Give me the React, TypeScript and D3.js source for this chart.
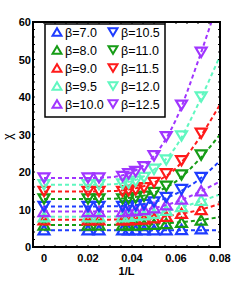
import * as d3 from 'd3'

const W = 249
const H = 291

// 1/L of each simulated size (L = 50, 40, 28, 26, 24, 22, 20, 18, 16, 14), plus the 1/L -> 0 value
const invL = [0, 1 / 50, 1 / 40, 1 / 28, 1 / 26, 1 / 24, 1 / 22, 1 / 20, 1 / 18, 1 / 16, 1 / 14]

const betas = ['7.0', '8.0', '9.0', '9.5', '10.0', '10.5', '11.0', '11.5', '12.0', '12.5']
const colors = ['#1e3cff', '#169c16', '#ff1a1a', '#60f7c0', '#a035ff', '#1e3cff', '#169c16', '#ff1a1a', '#60f7c0', '#a035ff']
const shapes = ['up', 'up', 'up', 'up', 'up', 'down', 'down', 'down', 'down', 'down']

// chi at each 1/L, one row per beta
const chi = [
  [4.6, 4.6, 4.6, 4.6, 4.6, 4.6, 4.6, 4.6, 4.6, 4.7, 4.9],
  [5.9, 5.9, 5.9, 5.9, 5.9, 5.9, 6.0, 6.1, 6.3, 6.6, 7.2],
  [7.3, 7.3, 7.3, 7.3, 7.3, 7.4, 7.5, 7.8, 8.2, 9.0, 10.0],
  [8.1, 8.1, 8.1, 8.1, 8.2, 8.4, 8.6, 9.0, 9.8, 10.8, 12.5],
  [9.5, 9.5, 9.5, 9.5, 9.6, 9.8, 10.0, 10.5, 11.3, 12.8, 15.0],
  [10.8, 10.8, 10.8, 10.8, 10.9, 11.0, 11.3, 12.0, 13.2, 15.3, 18.5],
  [12.8, 12.8, 12.8, 12.8, 12.9, 13.1, 13.5, 14.5, 16.2, 19.2, 24.5],
  [14.8, 14.8, 14.8, 14.8, 15.0, 15.2, 15.8, 17.2, 19.5, 23.0, 30.3],
  [16.6, 16.6, 16.6, 16.8, 17.0, 17.5, 18.5, 20.7, 23.2, 29.6, 40.0],
  [18.4, 18.4, 18.4, 18.8, 19.5, 20.1, 21.4, 24.3, 29.4, 37.8, 51.9],
]

const fitX = [0, 0.02, 0.03, 0.04, 0.05, 0.06, 0.07, 0.08]
const fits = [
  [4.5, 4.5, 4.5, 4.5, 4.5, 4.5, 4.5, 4.5],
  [5.9, 5.9, 5.9, 5.95, 6.1, 6.5, 7.1, 8.0],
  [7.3, 7.3, 7.3, 7.4, 7.8, 8.6, 9.8, 11.5],
  [8.1, 8.1, 8.1, 8.3, 8.9, 10.2, 12.0, 14.0],
  [9.5, 9.5, 9.5, 9.7, 10.4, 12.0, 14.5, 17.5],
  [10.8, 10.8, 10.85, 11.1, 12.0, 14.2, 17.8, 23.0],
  [12.8, 12.8, 12.85, 13.2, 14.5, 17.5, 23.0, 30.0],
  [14.8, 14.8, 14.9, 15.5, 17.2, 21.0, 28.5, 38.0],
  [16.6, 16.6, 16.7, 17.6, 20.6, 26.8, 38.0, 51.0],
  [18.4, 18.4, 18.6, 20.0, 24.3, 34.0, 49.5, 67.0],
]

const xTicks = [0, 0.02, 0.04, 0.06, 0.08]
const yTicks = [0, 10, 20, 30, 40, 50, 60]

const m = { left: 33, right: 29, top: 22, bottom: 44 }

function tri(shape: string, cx: number, cy: number, s: number) {
  const h = s * 0.85
  if (shape === 'up') return `M${cx - s / 2},${cy + h / 2}L${cx + s / 2},${cy + h / 2}L${cx},${cy - h / 2}Z`
  return `M${cx - s / 2},${cy - h / 2}L${cx + s / 2},${cy - h / 2}L${cx},${cy + h / 2}Z`
}

export default function App() {
  const x = d3.scaleLinear().domain([-0.005, 0.08]).range([m.left, W - m.right])
  const y = d3.scaleLinear().domain([0, 60]).range([H - m.bottom, m.top])
  const line = d3.line<number>()
    .x((_, i) => x(fitX[i]))
    .y((d) => y(d))
    .curve(d3.curveMonotoneX)

  const font = 'Liberation Sans, Arial, sans-serif'
  const x0 = m.left
  const x1 = W - m.right
  const y0 = H - m.bottom
  const y1 = m.top
  const xMinor = d3.range(0, 0.0801, 0.005)
  const yMinor = d3.range(0, 60.1, 2)

  return (
    <svg width={W} height={H} style={{ position: 'absolute', left: 0, top: 0 }}>
      <rect width={W} height={H} fill="#fff" />
      <defs>
        <clipPath id="plot">
          <rect x={x0} y={y1} width={x1 - x0} height={y0 - y1} />
        </clipPath>
      </defs>
      <g clipPath="url(#plot)">
        {betas.map((b, k) => (
          <g key={b}>
            <path d={line(fits[k]) ?? ''} fill="none" stroke={colors[k]} strokeWidth={2} strokeDasharray="4,3" />
            {chi[k].map((v, i) => (
              <path key={i} d={tri(shapes[k], x(invL[i]), y(v), 11)} fill="none" stroke={colors[k]} strokeWidth={2.2} />
            ))}
          </g>
        ))}
      </g>
      {xMinor.map((t) => (
        <g key={'xm' + t}>
          <line x1={x(t)} x2={x(t)} y1={y0} y2={y0 - 2} stroke="#000" strokeWidth={1} />
          <line x1={x(t)} x2={x(t)} y1={y1} y2={y1 + 2} stroke="#000" strokeWidth={1} />
        </g>
      ))}
      {yMinor.map((t) => (
        <g key={'ym' + t}>
          <line x1={x0} x2={x0 + 2} y1={y(t)} y2={y(t)} stroke="#000" strokeWidth={1} />
          <line x1={x1} x2={x1 - 2} y1={y(t)} y2={y(t)} stroke="#000" strokeWidth={1} />
        </g>
      ))}
      <rect x={x0} y={y1} width={x1 - x0} height={y0 - y1} fill="none" stroke="#000" strokeWidth={2} />
      {xTicks.map((t) => (
        <text key={'xt' + t} x={x(t)} y={y0 + 15} textAnchor="middle" fontFamily={font} fontWeight="bold" fontSize={11}>
          {String(t)}
        </text>
      ))}
      {yTicks.map((t) => (
        <text key={'yt' + t} x={x0 - 2} y={y(t) + 4} textAnchor="end" fontFamily={font} fontWeight="bold" fontSize={11}>
          {String(t)}
        </text>
      ))}
      <text x={(x0 + x1) / 2} y={y0 + 28} textAnchor="middle" fontFamily={font} fontWeight="bold" fontSize={11}>
        1/L
      </text>
      <text transform={`translate(12,${(y0 + y1) / 2 + 2}) rotate(-90)`} textAnchor="middle" fontFamily={font} fontSize={12}>
        χ
      </text>
      <g>
        <rect x={45} y={24} width={120} height={93} fill="#fff" stroke="#000" strokeWidth={1.5} />
        {betas.map((b, k) => {
          const col = k < 5 ? 0 : 1
          const row = k % 5
          const mx = col === 0 ? 57 : 113
          const my = 32 + row * 18
          return (
            <g key={'lg' + b}>
              <path d={tri(shapes[k], mx, my, 9)} fill="none" stroke={colors[k]} strokeWidth={2} />
              <text x={mx + 8} y={my + 4.5} fontFamily={font} fontSize={12.5}>
                {'β=' + b}
              </text>
            </g>
          )
        })}
      </g>
    </svg>
  )
}
